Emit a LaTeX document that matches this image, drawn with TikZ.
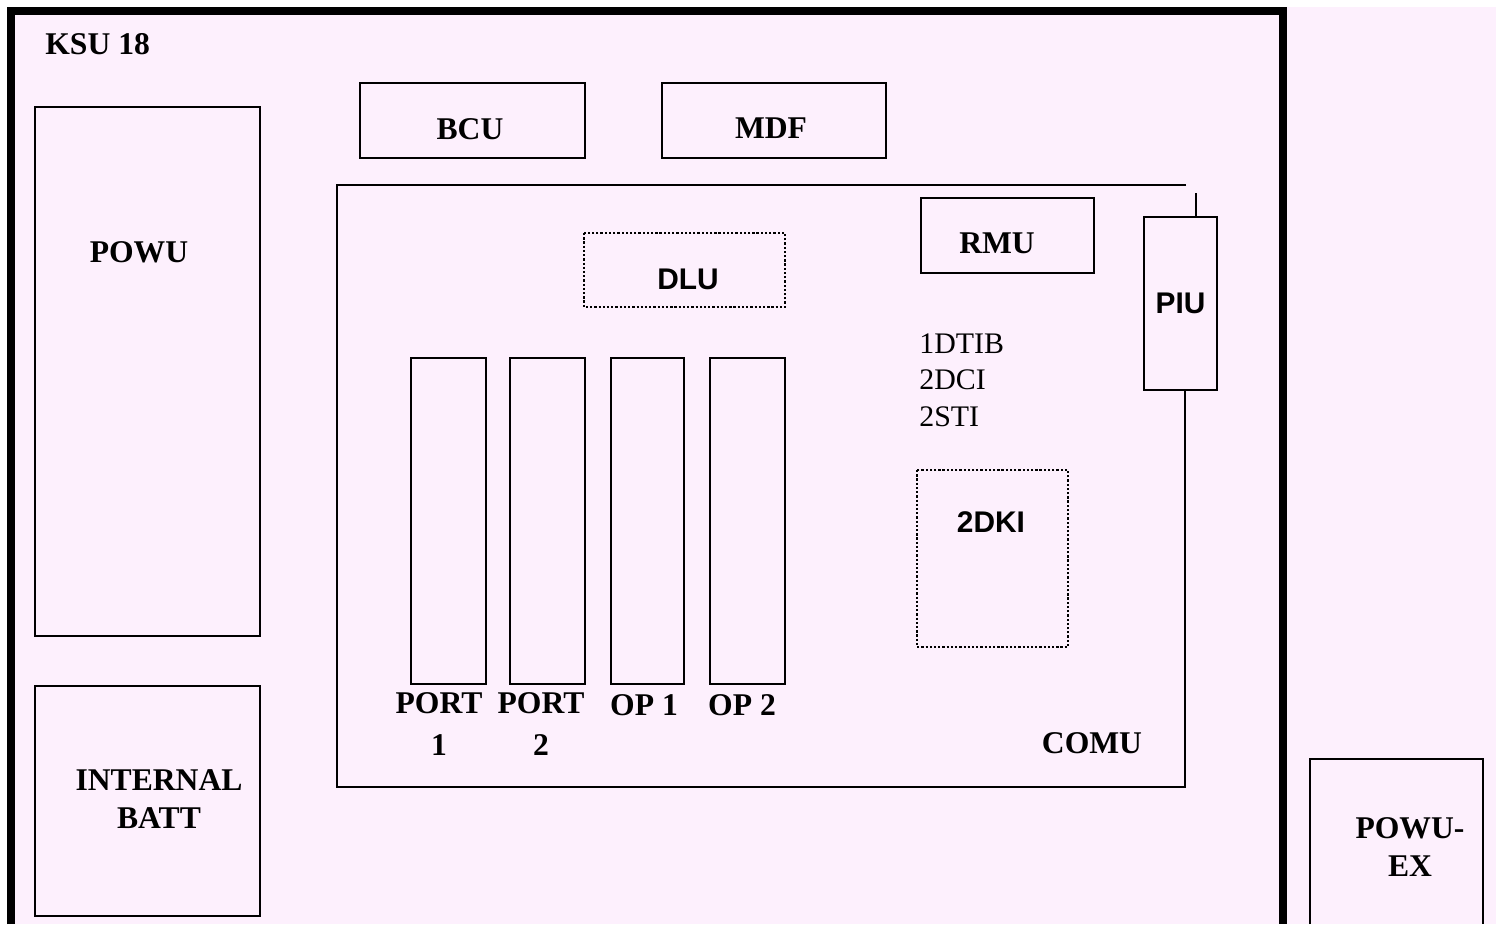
\documentclass[tikz,border=0pt]{standalone}
\usepackage{fontspec}
\setmainfont{Liberation Serif}
\setsansfont{Liberation Sans}
\definecolor{dotpink}{RGB}{253,240,253}
\tikzset{
  card/.style={draw, line width=1.3pt},
  dotbox/.style={draw, line width=1.5pt, dash pattern=on 1.3pt off 1.1pt},
  lbl/.style={inner sep=0pt, align=center, font=\fontsize{18}{21.6}\selectfont\bfseries},
  slbl/.style={inner sep=0pt, font=\fontsize{17}{20}\selectfont\sffamily\bfseries},
  plain/.style={inner sep=0pt, align=left, font=\fontsize{17}{21}\selectfont}
}
\begin{document}
\begin{tikzpicture}[x=0.02cm, y=-0.02cm]
  \useasboundingbox (0,0) rectangle (1496,924);
  \fill[dotpink] (7,7) rectangle (1496,924);
  % KSU frame
  \draw[line width=4.5pt] (11,924) -- (11,11) -- (1283,11) -- (1283,924);
  \node[lbl, anchor=west] (ksu) at (45,44) {KSU 18};
  % power and battery
  \draw[card] (35,107) rectangle (260,636);
  \node[lbl] (powu) at (139,252) {POWU};
  \draw[card] (35,686) rectangle (260,916);
  \node[lbl] (batt) at (159,799) {INTERNAL\\BATT};
  % top units
  \draw[card] (360,83) rectangle (585,158);
  \node[lbl] (bcu) at (470,129) {BCU};
  \draw[card] (662,83) rectangle (886,158);
  \node[lbl] (mdf) at (771,128) {MDF};
  % COMU board
  \node[card, minimum width=1.46cm, minimum height=3.46cm, slbl] (piu) at (1180.5,303.5) {PIU};
  \coordinate (stub) at (1196,193);
  \coordinate (comuse) at (1185,787);
  \draw[card] (stub) -- (stub |- piu.north);
  \draw[card] (1186,185) -- (337,185) -- (337,787) -- (comuse) -- (comuse |- piu.south);
  \node[lbl] (comu) at (1092,743) {COMU};
  \draw[card] (921,198) rectangle (1094,273);
  \node[lbl] (rmu) at (997,243) {RMU};
  \draw[dotbox] (584,233) rectangle (785,307);
  \node[slbl] (dlu) at (688,279) {DLU};
  \node[plain, anchor=north west] (cards) at (919,333) {1DTIB\\2DCI\\2STI};
  \draw[dotbox] (917,470) rectangle (1068,647);
  \node[slbl] (dki) at (991,522) {2DKI};
  % port slots
  \foreach \xa/\xb in {411/486,510/585,611/684,710/785}
    \draw[card] (\xa,358) rectangle (\xb,684);
  \node[lbl, font=\fontsize{18}{24}\selectfont\bfseries] (port1) at (439,724) {PORT\\1};
  \node[lbl, font=\fontsize{18}{24}\selectfont\bfseries] (port2) at (541,724) {PORT\\2};
  \node[lbl] (op1) at (644,705) {OP 1};
  \node[lbl] (op2) at (742,705) {OP 2};
  % external power
  \draw[card] (1310,924) -- (1310,759) -- (1483,759) -- (1483,924);
  \node[lbl] (powuex) at (1410,847) {POWU-\\EX};
\end{tikzpicture}
\end{document}
